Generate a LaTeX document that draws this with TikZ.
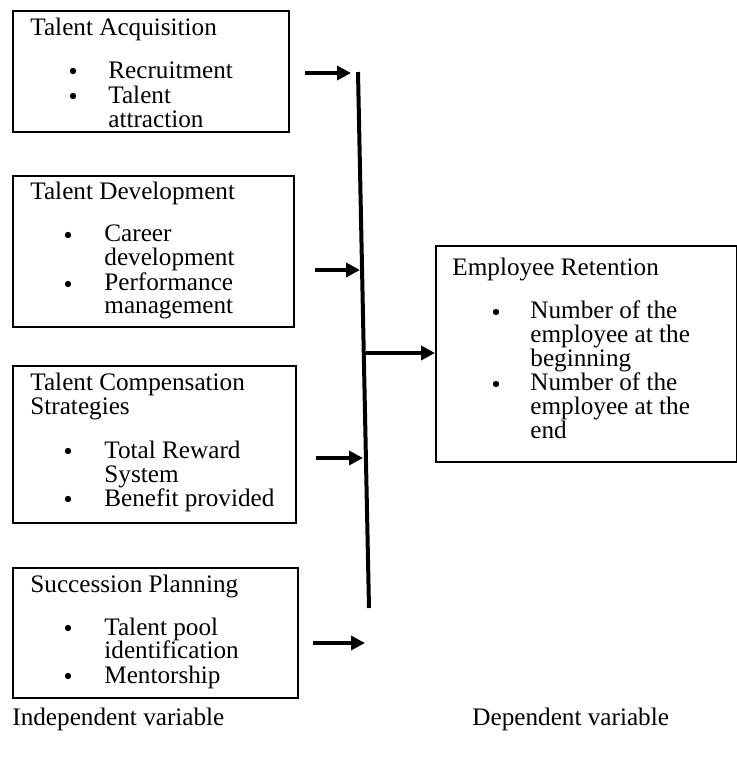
\documentclass[tikz,border=0pt]{standalone}
\usepackage{fontspec}
\setmainfont{Liberation Serif}
\usetikzlibrary{arrows.meta}
\begin{document}
\begin{tikzpicture}[x=0.5pt,y=-0.5pt,
  box/.style={draw,line width=1pt,anchor=north west,inner sep=0pt},
  txt/.style={anchor=base west,inner sep=0pt,font=\fontsize{12.6}{14}\selectfont},
  bul/.style={circle,fill,inner sep=0pt,minimum size=3.2pt},
  arr/.style={line width=2.2pt,-{Triangle[length=7pt,width=7pt]}},
  bar/.style={line width=2pt}]
\useasboundingbox (0,0) rectangle (736,757);
% boxes
\node[box,minimum width=138pt,minimum height=60.5pt] (b1) at (12,10) {};
\node[box,minimum width=140.5pt,minimum height=75.5pt] (b2) at (12,175) {};
\node[box,minimum width=141.5pt,minimum height=78.5pt] (b3) at (12,365) {};
\node[box,minimum width=142.5pt,minimum height=65pt] (b4) at (12,567) {};
\node[box,minimum width=150.5pt,minimum height=108pt] (b5) at (435,245) {};
% box 1
\node[txt] (t1) at (30,35) {Talent Acquisition};
\node[bul] (k11) at (73,71) {};
\node[txt] (t11) at (108,78) {Recruitment};
\node[bul] (k12) at (73,96) {};
\node[txt] (t12) at (108,103) {Talent};
\node[txt] (t13) at (108,127) {attraction};
% box 2
\node[txt] (t2) at (30,199) {Talent Development};
\node[bul] (k21) at (68,235) {};
\node[txt] (t21) at (104,241) {Career};
\node[txt] (t22) at (104,265) {development};
\node[bul] (k22) at (68,284) {};
\node[txt] (t23) at (104,290) {Performance};
\node[txt] (t24) at (104,313) {management};
% box 3
\node[txt] (t3) at (30,390) {Talent Compensation};
\node[txt] (t3b) at (30,414) {Strategies};
\node[bul] (k31) at (68,451) {};
\node[txt] (t31) at (104,458) {Total Reward};
\node[txt] (t32) at (104,482) {System};
\node[bul] (k32) at (68,499) {};
\node[txt] (t33) at (104,506) {Benefit provided};
% box 4
\node[txt] (t4) at (30,592) {Succession Planning};
\node[bul] (k41) at (68,628) {};
\node[txt] (t41) at (104,635) {Talent pool};
\node[txt] (t42) at (104,658) {identification};
\node[bul] (k42) at (68,676) {};
\node[txt] (t43) at (104,683) {Mentorship};
% box 5
\node[txt] (t5) at (452,275) {Employee Retention};
\node[bul] (k51) at (496,312) {};
\node[txt] (t51) at (530,318) {Number of the};
\node[txt] (t52) at (530,342) {employee at the};
\node[txt] (t53) at (530,366) {beginning};
\node[bul] (k52) at (496,384) {};
\node[txt] (t54) at (530,390) {Number of the};
\node[txt] (t55) at (530,414) {employee at the};
\node[txt] (t56) at (530,438) {end};
% labels
\node[txt] (l1) at (12,725) {Independent variable};
\node[txt] (l2) at (472,725) {Dependent variable};
% bar and arrows
\coordinate (vt) at (358,72);
\coordinate (vb) at (369,608);
\draw[bar] (vt) -- (vb);
\coordinate (a1s) at (305,73);
\coordinate (a1e) at (351,73);
\coordinate (a2s) at (315,270);
\coordinate (a2e) at (360,270);
\coordinate (a3s) at (316,458);
\coordinate (a3e) at (363,458);
\coordinate (a4s) at (313,643);
\coordinate (a4e) at (365,643);
\coordinate (a5s) at (366,353);
\draw[arr] (a1s) -- (a1e);
\draw[arr] (a2s) -- (a2e);
\draw[arr] (a3s) -- (a3e);
\draw[arr] (a4s) -- (a4e);
\draw[arr] (a5s) -- (b5.west |- a5s);
\end{tikzpicture}
\end{document}
